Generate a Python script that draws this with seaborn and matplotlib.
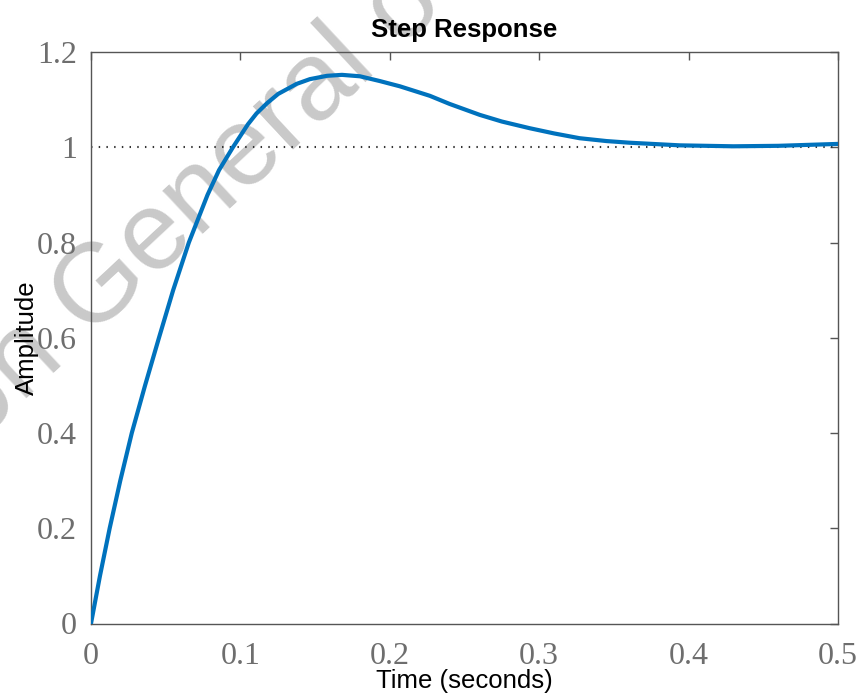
import numpy as np
import pandas as pd
import matplotlib
matplotlib.use("Agg")
import matplotlib.pyplot as plt
import seaborn as sns

# -----------------------------
# Data read off the step response
# -----------------------------
time_s = [0, 0.006, 0.0125, 0.0196, 0.0273, 0.0362, 0.0455, 0.055, 0.0655, 0.078,
          0.0857, 0.095, 0.105, 0.1108, 0.118, 0.1253, 0.1376, 0.1465, 0.158, 0.168,
          0.18, 0.1933, 0.2067, 0.2268, 0.24, 0.2602, 0.275, 0.2936, 0.31,
          0.327, 0.345, 0.3605, 0.394, 0.43, 0.46, 0.5]
amplitude = [0, 0.1, 0.2, 0.3, 0.4, 0.5, 0.6, 0.7, 0.8, 0.9,
             0.952, 1.0, 1.048, 1.071, 1.093, 1.112, 1.133, 1.143, 1.150, 1.152,
             1.149, 1.139, 1.128, 1.108, 1.091, 1.068, 1.054, 1.040, 1.029,
             1.019, 1.013, 1.0095, 1.004, 1.002, 1.003, 1.007]
final_value = 1.0

x_ticks = [0, 0.1, 0.2, 0.3, 0.4, 0.5]
x_tick_labels = ["0", "0.1", "0.2", "0.3", "0.4", "0.5"]
y_ticks = [0, 0.2, 0.4, 0.6, 0.8, 1.0, 1.2]
y_tick_labels = ["0", "0.2", "0.4", "0.6", "0.8", "1", "1.2"]

df = pd.DataFrame({"Time": time_s, "Amplitude": amplitude})

# -----------------------------
# Style
# -----------------------------
sns.set_style("white")
plt.rcParams["font.family"] = ["Liberation Sans", "DejaVu Sans"]

fig = plt.figure(figsize=(8.64, 6.98), dpi=100)
ax = fig.add_axes([91 / 864, 1 - 623.5 / 698, (838 - 91) / 864, (623.5 - 52) / 698])
ax.set_zorder(1)

# watermark, behind everything
fig.text(192 / 864, 1 - 205 / 698, "on General o", fontsize=80, color="#c9c9c9",
         rotation=43, ha="center", va="center", zorder=-5)

# steady state reference line
ax.plot([0, 0.5], [final_value, final_value], color="#333333", lw=1.5,
        linestyle=(0, (0.7, 3.0)), zorder=2)

sns.lineplot(data=df, x="Time", y="Amplitude", color="#0072BD", lw=3.0,
             ax=ax, zorder=3)

ax.set_xlim(0, 0.5)
ax.set_ylim(0, 1.2)
ax.set_xticks(x_ticks)
ax.set_xticklabels(x_tick_labels)
ax.set_yticks(y_ticks)
ax.set_yticklabels(y_tick_labels)

for lab in ax.get_xticklabels() + ax.get_yticklabels():
    lab.set_family("Liberation Serif")
    lab.set_fontsize(23)
    lab.set_color("#6e6e6e")

ax.tick_params(direction="in", length=6, width=1.0, color="#555555",
               top=True, right=True, pad=10)
ax.tick_params(axis="x", pad=13)
for sp in ax.spines.values():
    sp.set_color("#555555")
    sp.set_linewidth(1.0)
ax.patch.set_visible(False)

ax.set_xlabel("Time (seconds)", fontsize=18.5, color="black", labelpad=-1)
ax.set_ylabel("Amplitude", fontsize=18.5, color="black", labelpad=-1)
ax.set_title("Step Response", fontsize=18.5, fontweight="bold", color="black", pad=11)

plt.savefig("out.png", dpi=100)
